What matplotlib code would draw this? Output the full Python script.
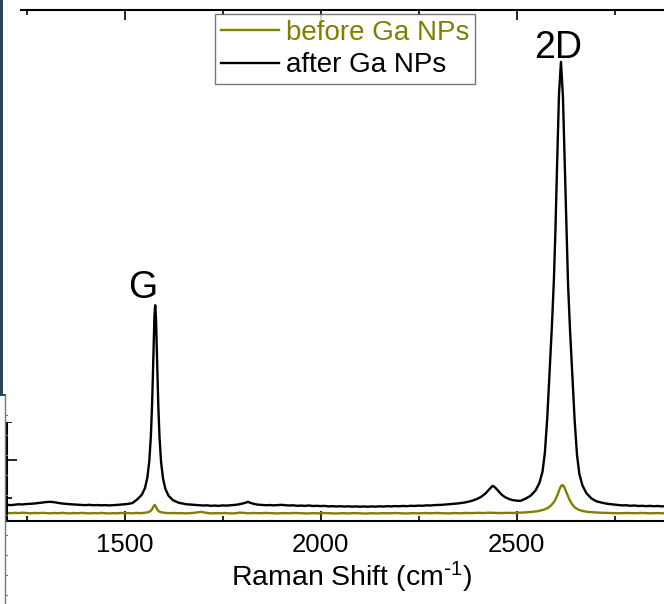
import matplotlib
matplotlib.use('Agg')
import matplotlib.pyplot as plt
from matplotlib.ticker import MultipleLocator
from matplotlib.patches import Rectangle
from matplotlib.lines import Line2D

plt.rcParams['font.family'] = ['Liberation Sans', 'DejaVu Sans']
plt.rcParams['mathtext.default'] = 'regular'

# Raman spectra (cm-1 vs counts)
after_x = [1200, 1210, 1220, 1230, 1240, 1250, 1260, 1270, 1280, 1290, 1300, 1310, 1320, 1330,
           1340, 1350, 1360, 1370, 1380, 1390, 1400, 1410, 1420, 1430, 1440, 1450, 1460, 1470,
           1480, 1490, 1500, 1510, 1520, 1533, 1544, 1552, 1558, 1563, 1567, 1570, 1572, 1574,
           1576, 1578, 1580, 1582, 1584, 1586, 1589, 1593, 1598, 1604, 1612, 1623, 1638, 1658,
           1670, 1680, 1690, 1700, 1710, 1720, 1730, 1740, 1750, 1760, 1770, 1780, 1790, 1800,
           1810, 1815, 1820, 1830, 1840, 1850, 1860, 1870, 1880, 1890, 1900, 1910, 1920, 1930,
           1940, 1950, 1960, 1970, 1980, 1990, 2000, 2010, 2020, 2030, 2040, 2050, 2060, 2070,
           2080, 2090, 2100, 2110, 2120, 2130, 2140, 2150, 2160, 2170, 2180, 2190, 2200, 2210,
           2220, 2230, 2240, 2250, 2260, 2270, 2280, 2290, 2300, 2310, 2320, 2330, 2340, 2350,
           2360, 2370, 2380, 2390, 2400, 2410, 2420, 2430, 2438, 2442, 2448, 2455, 2462, 2470,
           2480, 2490, 2500, 2510, 2523, 2535, 2548, 2558, 2566, 2572, 2578, 2584, 2590, 2595,
           2599, 2603, 2608, 2613, 2618, 2623, 2627, 2631, 2636, 2642, 2648, 2654, 2660, 2668,
           2678, 2691, 2703, 2718, 2733,
           2750, 2760, 2770, 2780, 2790, 2800, 2810, 2820, 2830, 2840, 2850, 2860, 2870, 2880,
           2890, 2900, 2920, 2940, 2960, 2980, 3000]
after_y = [825, 818, 830, 840, 835, 848, 852, 860, 872, 885, 898, 905, 895, 878,
           860, 850, 842, 835, 830, 822, 818, 825, 815, 820, 812, 818, 810, 815,
           822, 830, 840, 852, 872, 976, 1091, 1270, 1541, 1979, 2635, 3445, 4181, 5023,
           5765, 6075, 5740, 4995, 4150, 3415, 2605, 1950, 1515, 1245, 1065, 950, 880, 840,
           830, 822, 815, 808, 812, 800, 806, 798, 810, 805, 815, 822, 835, 858,
           885, 905, 880, 850, 830, 822, 815, 820, 812, 818, 825, 815, 808, 812,
           800, 805, 798, 808, 795, 800, 792, 798, 785, 790, 782, 788, 780, 786,
           778, 784, 776, 782, 775, 783, 778, 786, 780, 790, 784, 792, 788, 796,
           790, 800, 796, 805, 800, 812, 808, 818, 822, 826, 835, 842, 852, 862,
           875, 892, 915, 945, 985, 1040, 1120, 1230, 1320, 1310, 1250, 1170, 1090, 1030,
           980, 950, 935, 930, 990, 1060, 1200, 1400, 1700, 2200, 3100, 4302, 5550, 6750,
           8089, 9719, 11639, 12475, 11569, 9649, 8019, 6650, 5450, 4232, 3030, 2130, 1630, 1330,
           1130, 990, 920, 880, 850,
           830, 820, 810, 815, 800, 808, 795, 800, 790, 798, 788, 795, 785, 792,
           782, 790, 780, 786, 778, 784, 776]

before_x = [1200, 1210, 1220, 1230, 1240, 1250, 1260, 1270, 1280, 1290, 1300, 1310, 1320, 1330,
            1340, 1350, 1360, 1370, 1380, 1390, 1400, 1410, 1420, 1430, 1440, 1450, 1460, 1470,
            1480, 1490, 1500, 1510, 1520, 1530, 1540, 1550, 1560, 1566, 1570, 1574, 1577, 1580,
            1584, 1588, 1595, 1605, 1615, 1625, 1635, 1645, 1655, 1665, 1675, 1685, 1695, 1705,
            1715, 1725, 1735, 1745, 1755, 1765, 1775, 1785, 1795, 1805, 1815, 1830, 1845, 1860,
            1875, 1890, 1905, 1920, 1935, 1950, 1965, 1980, 1995, 2010, 2025, 2040, 2055, 2070,
            2085, 2100, 2115, 2130, 2145, 2160, 2175, 2190, 2205, 2220, 2235, 2250, 2265, 2280,
            2295, 2310, 2325, 2340, 2355, 2370, 2385, 2400, 2415, 2430, 2445, 2460, 2475, 2490,
            2505, 2520, 2540, 2555, 2570, 2580, 2588, 2595, 2600, 2605, 2610, 2614, 2617, 2620,
            2624, 2629, 2634, 2640, 2648, 2657, 2668, 2680, 2700, 2720, 2740, 2760, 2780, 2800,
            2820, 2840, 2860, 2880, 2900, 2920, 2940, 2960, 2980, 3000]
before_y = [612, 605, 615, 608, 618, 610, 603, 612, 606, 615, 609, 602, 611, 605,
            614, 607, 600, 610, 604, 613, 606, 600, 609, 603, 612, 605, 598, 608,
            602, 611, 604, 610, 603, 612, 606, 615, 630, 660, 710, 790, 825, 770,
            690, 650, 625, 612, 605, 611, 603, 609, 600, 607, 612, 625, 640, 620,
            606, 600, 608, 602, 611, 604, 598, 609, 620, 612, 603, 610, 604, 612,
            606, 600, 609, 603, 611, 605, 598, 607, 601, 610, 604, 597, 606, 600,
            609, 603, 596, 605, 599, 608, 602, 610, 604, 598, 607, 601, 610, 604,
            612, 606, 600, 609, 603, 612, 607, 615, 609, 618, 612, 608, 615, 611,
            618, 625, 640, 660, 700, 745, 810, 900, 990, 1110, 1250, 1330, 1347, 1320,
            1230, 1100, 980, 860, 760, 700, 665, 640, 625, 615, 610, 604, 611, 605,
            612, 603, 609, 601, 607, 600, 606, 599, 605, 598]

series_labels = ['before Ga NPs', 'after Ga NPs']
series_colors = ['#808000', 'black']
peak_labels = ['G', '2D']
peak_pos = [(1546, 6530), (2607, 12850)]

W, H = 664, 604
fig = plt.figure(figsize=(W / 100, H / 100), dpi=100)
# axes runs past the right edge of the picture, as in the cropped original
ax = fig.add_axes([7 / W, 83 / H, 690 / W, 511 / H])

ax.plot(before_x, before_y, color=series_colors[0], lw=1.7, label=series_labels[0])
ax.plot(after_x, after_y, color=series_colors[1], lw=1.7, label=series_labels[1])

ax.set_xlim(1200, 2960)
ax.set_ylim(400, 13840)

ax.xaxis.set_major_locator(MultipleLocator(500))
ax.xaxis.set_minor_locator(MultipleLocator(250))
ax.yaxis.set_major_locator(MultipleLocator(2000))
ax.yaxis.set_minor_locator(MultipleLocator(1000))
ax.tick_params(which='both', direction='in', top=True, right=True, width=1.2,
               labelsize=18.5, pad=9, labelleft=False)
ax.tick_params(which='major', length=7)
ax.tick_params(which='minor', length=3.5)
for s in ax.spines.values():
    s.set_linewidth(1.5)

ax.set_xlabel(r'Raman Shift (cm$^{\text{-}1}$)', fontsize=20.5, labelpad=2)

for lab, (px, py) in zip(peak_labels, peak_pos):
    ax.text(px, py, lab, fontsize=27, ha='center', va='center')

leg = ax.legend(loc='upper left', bbox_to_anchor=(208 / 690, 1 - 4 / 511), fontsize=20,
                handlelength=2.1, handletextpad=0.25, labelspacing=0.25,
                borderpad=0.2, borderaxespad=0, fancybox=False, frameon=True)
leg.get_frame().set_edgecolor('#555555')
leg.get_frame().set_linewidth(1.0)
for t, c in zip(leg.get_texts(), series_colors):
    t.set_color(c)

# overlapping slide pieces on the left edge
fig.patches.append(Rectangle((0, (H - 422) / H), 20 / W, 422 / H, transform=fig.transFigure,
                             facecolor='white', edgecolor='none', zorder=10))
fig.patches.append(Rectangle((0, (H - 396) / H), 2.5 / W, 396 / H, transform=fig.transFigure,
                             facecolor='#27465e', edgecolor='none', zorder=11))
fig.lines.append(Line2D([0, 5 / W], [(H - 395) / H] * 2, transform=fig.transFigure,
                        color='#27465e', lw=1.5, zorder=11))
fig.lines.append(Line2D([5 / W, 5 / W], [0, (H - 395) / H], transform=fig.transFigure,
                        color='#777777', lw=1.0, zorder=11))
for yy in range(415, 604, 20):
    fig.lines.append(Line2D([5 / W, 7 / W], [(H - yy) / H] * 2, transform=fig.transFigure,
                            color='#777777', lw=0.8, zorder=11))

fig.savefig('out.png', dpi=100)
